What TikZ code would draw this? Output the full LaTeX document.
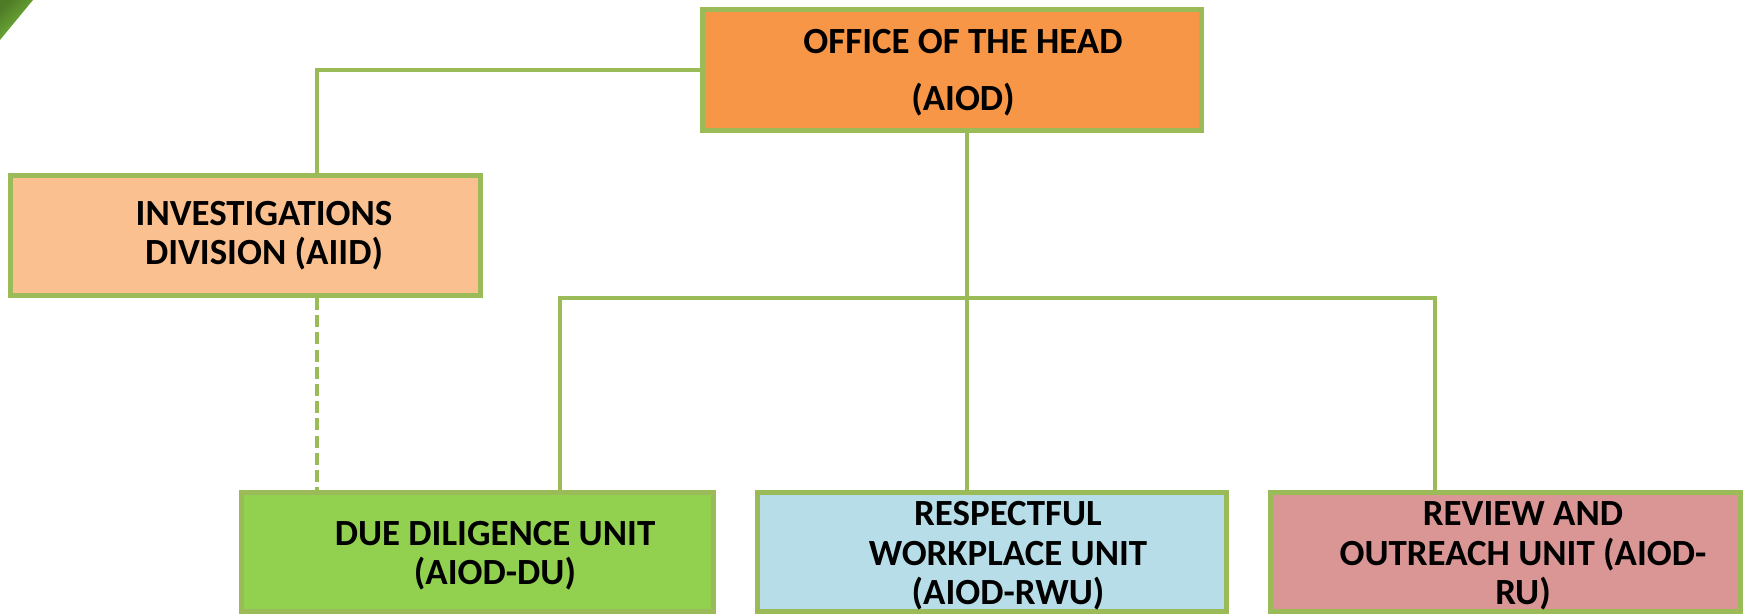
\documentclass[tikz,border=0pt]{standalone}
\usepackage{fontspec}
\setmainfont{Carlito}
\usepackage{xcolor}

\definecolor{linegreen}{RGB}{155,187,89}
\definecolor{headorange}{RGB}{247,150,70}
\definecolor{lightorange}{RGB}{250,192,144}
\definecolor{unitgreen}{RGB}{146,208,80}
\definecolor{unitblue}{RGB}{183,222,232}
\definecolor{unitrose}{RGB}{217,150,148}
\definecolor{cornergreen}{RGB}{122,193,60}

\begin{document}
\begin{tikzpicture}[
  unitbox/.style={draw=linegreen, line width=1.4pt, rectangle, inner sep=0pt, minimum height=1.20cm},
  boxtext/.style={font=\fontsize{10.5}{11.2}\selectfont\bfseries, align=center, inner sep=0pt},
  link/.style={draw=linegreen, line width=1.15pt}
]
\useasboundingbox (0,0) rectangle (17.48,-6.16);

% Corner of the slide background
\shade[left color=cornergreen!65!black, right color=cornergreen, shading angle=45] (0,0) -- (0.33,0) -- (0,-0.40) -- cycle;

% Define the head office
\node[unitbox, fill=headorange, minimum width=4.99cm, minimum height=1.21cm] (head) at (9.52,-0.70) {};
\node[boxtext] (headtext) at (9.63,-0.73) {OFFICE OF THE HEAD\\[5pt](AIOD)};

% Define the division
\node[unitbox, fill=lightorange, minimum width=4.70cm] (aiid) at (2.455,-2.355) {};
\node[boxtext] (aiidtext) at (2.64,-2.36) {INVESTIGATIONS\\DIVISION (AIID)};

% Define the units along the bottom
\node[unitbox, fill=unitgreen, minimum width=4.72cm, minimum height=1.19cm] (du) at (4.775,-5.52) {};
\node[boxtext] (dutext) at (4.95,-5.56) {DUE DILIGENCE UNIT\\(AIOD-DU)};
\node[unitbox, fill=unitblue, minimum width=4.69cm, minimum height=1.19cm] (rwu) at (9.92,-5.52) {};
\node[boxtext] (rwutext) at (10.08,-5.56) {RESPECTFUL\\WORKPLACE UNIT\\(AIOD-RWU)};
\node[unitbox, fill=unitrose, minimum width=4.70cm, minimum height=1.19cm] (ru) at (15.055,-5.52) {};
\node[boxtext] (rutext) at (15.23,-5.56) {REVIEW AND\\OUTREACH UNIT (AIOD-\\RU)};

% Points the connectors run through
\coordinate (drop) at (3.17,0);
\coordinate (trunk) at (9.67,-2.98);
\coordinate (busL) at (5.60,-2.98);
\coordinate (busR) at (14.35,-2.98);

% Connect the head to the division
\draw[link] (head.west) -| (drop |- aiid.north);
\draw[link, dash pattern=on 3.4pt off 1.5pt] (drop |- aiid.south) -- (drop |- du.north);

% Connect the head to the units
\draw[link] (trunk |- head.south) -- (trunk |- rwu.north);
\draw[link] (busL |- du.north) -- (busL) -- (busR) -- (busR |- ru.north);

\end{tikzpicture}
\end{document}
